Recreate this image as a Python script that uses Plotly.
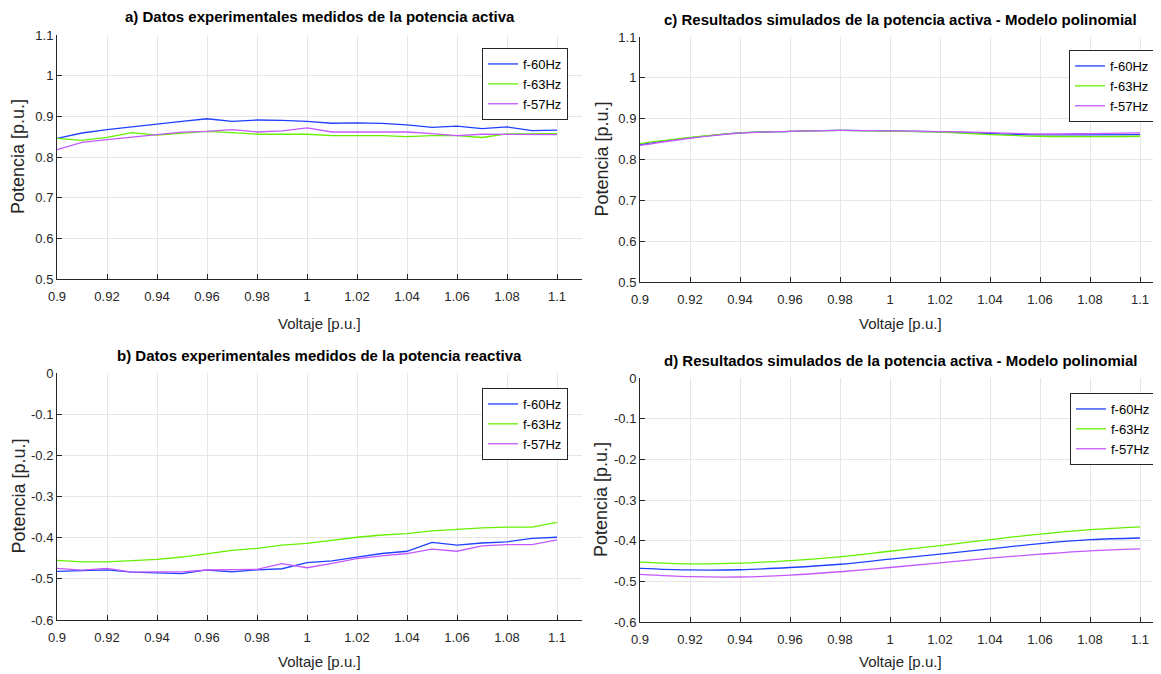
import plotly.graph_objects as go

W, H = 1161, 674
OFF = 8  # page body margin offset
FONT = "Liberation Sans Narrow, Arial Narrow, Liberation Sans, Arial"

# ---------------- data ----------------
voltage = [0.90, 0.91, 0.92, 0.93, 0.94, 0.95, 0.96, 0.97, 0.98, 0.99, 1.00,
           1.01, 1.02, 1.03, 1.04, 1.05, 1.06, 1.07, 1.08, 1.09, 1.10]

# a) measured active power
p_meas_60 = [0.846, 0.859, 0.8675, 0.875, 0.881, 0.8875, 0.894, 0.8875, 0.891, 0.890, 0.8875,
             0.883, 0.884, 0.8825, 0.879, 0.873, 0.876, 0.870, 0.874, 0.865, 0.866]
p_meas_63 = [0.846, 0.841, 0.848, 0.860, 0.854, 0.859, 0.863, 0.860, 0.856, 0.856, 0.856,
             0.8525, 0.8525, 0.8525, 0.850, 0.8525, 0.8525, 0.848, 0.857, 0.857, 0.8575]
p_meas_57 = [0.818, 0.836, 0.8425, 0.848, 0.855, 0.861, 0.863, 0.8675, 0.8615, 0.864, 0.8715,
             0.8615, 0.8615, 0.860, 0.8615, 0.8575, 0.8525, 0.856, 0.856, 0.855, 0.855]

# b) measured reactive power
q_meas_60 = [-0.482, -0.4795, -0.478, -0.4835, -0.486, -0.4875, -0.4785, -0.483, -0.478, -0.4755, -0.4605,
             -0.4565, -0.447, -0.4385, -0.433, -0.4115, -0.418, -0.413, -0.410, -0.4015, -0.399]
q_meas_63 = [-0.455, -0.459, -0.459, -0.456, -0.4525, -0.447, -0.4385, -0.431, -0.426, -0.418, -0.414,
             -0.4065, -0.399, -0.3935, -0.390, -0.3835, -0.379, -0.376, -0.3745, -0.3745, -0.363]
q_meas_57 = [-0.4745, -0.479, -0.4745, -0.4835, -0.483, -0.483, -0.4785, -0.4785, -0.477, -0.463, -0.473,
             -0.4625, -0.451, -0.444, -0.4385, -0.428, -0.433, -0.420, -0.417, -0.417, -0.4055]

# c) / d) simulated (polynomial model)
voltage_sim = [0.90, 0.92, 0.94, 0.96, 0.98, 1.00, 1.02, 1.04, 1.06, 1.08, 1.10]
p_sim_60 = [0.8366, 0.853, 0.865, 0.869, 0.8715, 0.870, 0.868, 0.8635, 0.8605, 0.8605, 0.861]
p_sim_63 = [0.8390, 0.854, 0.865, 0.869, 0.8715, 0.8695, 0.8670, 0.861, 0.857, 0.856, 0.857]
p_sim_57 = [0.8345, 0.852, 0.8645, 0.869, 0.8715, 0.870, 0.8685, 0.866, 0.8625, 0.8635, 0.865]

q_sim_60 = [-0.468, -0.472, -0.4715, -0.466, -0.458, -0.4455, -0.4333, -0.4203, -0.4073, -0.3976, -0.3935]
q_sim_63 = [-0.4528, -0.457, -0.4553, -0.449, -0.440, -0.426, -0.412, -0.3976, -0.3837, -0.373, -0.366]
q_sim_57 = [-0.483, -0.4886, -0.4894, -0.4846, -0.4764, -0.466, -0.4545, -0.443, -0.4333, -0.425, -0.4203]

series_names = ["f-60Hz", "f-63Hz", "f-57Hz"]
colors = ["#1f40ff", "#66f000", "#c458ff"]

x_ticks = [0.90, 0.92, 0.94, 0.96, 0.98, 1.00, 1.02, 1.04, 1.06, 1.08, 1.10]
x_ticklabels = ["0.9", "0.92", "0.94", "0.96", "0.98", "1", "1.02", "1.04", "1.06", "1.08", "1.1"]
yp_ticks = [0.5, 0.6, 0.7, 0.8, 0.9, 1.0, 1.1]
yp_ticklabels = ["0.5", "0.6", "0.7", "0.8", "0.9", "1", "1.1"]
yq_ticks = [-0.6, -0.5, -0.4, -0.3, -0.2, -0.1, 0.0]
yq_ticklabels = ["-0.6", "-0.5", "-0.4", "-0.3", "-0.2", "-0.1", "0"]

titles = ["a) Datos experimentales medidos de la potencia activa",
          "b) Datos experimentales medidos de la potencia reactiva",
          "c) Resultados simulados de la potencia activa - Modelo polinomial",
          "d) Resultados simulados de la potencia activa - Modelo polinomial"]

FW, FH = W - OFF, H - OFF


def fx(px):
    return (px - OFF) / FW


def fy(px):
    return 1 - (px - OFF) / FH


# panel geometry in window pixels: (left, right, top, bottom)
panels = [
    (57, 582, 35, 279),    # a
    (57, 582, 373, 620),   # b
    (640, 1160, 37, 282),  # c
    (640, 1160, 378, 622), # d
]
xtitle_gap = [44, 41, 41, 39]
xranges = [[0.9, 1.11], [0.9, 1.11], [0.9, 1.108], [0.9, 1.108]]
yranges = [[0.5, 1.1], [-0.6, 0.0], [0.5, 1.1], [-0.6, 0.0]]
legend_pos = [(568, 48), (568, 388), (1155, 50), (1156, 393)]

panel_data = [
    (voltage, [p_meas_60, p_meas_63, p_meas_57], "linear"),
    (voltage, [q_meas_60, q_meas_63, q_meas_57], "linear"),
    (voltage_sim, [p_sim_60, p_sim_63, p_sim_57], "spline"),
    (voltage_sim, [q_sim_60, q_sim_63, q_sim_57], "spline"),
]

fig = go.Figure()
layout = dict(
    width=FW, height=FH,
    margin=dict(l=0, r=0, t=0, b=0, autoexpand=False),
    paper_bgcolor="white", plot_bgcolor="white",
    font=dict(family=FONT, size=13, color="#262626"),
    showlegend=True,
)
annotations = []

for i, (xs, ys_list, shape) in enumerate(panel_data):
    n = i + 1
    xa = "x" if n == 1 else f"x{n}"
    ya = "y" if n == 1 else f"y{n}"
    lg = "legend" if n == 1 else f"legend{n}"
    for name, ys, col in zip(series_names, ys_list, colors):
        fig.add_trace(go.Scatter(
            x=xs, y=ys, mode="lines", name=name,
            line=dict(color=col, width=1.3, shape=shape, smoothing=1.0),
            xaxis=xa, yaxis=ya, legend=lg,
        ))
    l, r, t, b = panels[i]
    is_p = i in (0, 2)
    common = dict(
        showline=True, linecolor="#262626", linewidth=1, mirror=False,
        ticks="inside", ticklen=5, tickcolor="#262626", tickwidth=1,
        showgrid=True, gridcolor="#e6e6e6", gridwidth=1, zeroline=False,
        automargin=False,
        tickfont=dict(family=FONT, size=13, color="#262626"),
    )
    layout["xaxis" if n == 1 else f"xaxis{n}"] = dict(
        domain=[fx(l), fx(r)], range=xranges[i], anchor=ya,
        tickvals=x_ticks, ticktext=x_ticklabels, ticklabelstandoff=5, **common)
    layout["yaxis" if n == 1 else f"yaxis{n}"] = dict(
        domain=[fy(b), fy(t)], range=yranges[i], anchor=xa,
        tickvals=yp_ticks if is_p else yq_ticks,
        ticktext=yp_ticklabels if is_p else yq_ticklabels, **common)
    lx, ly = legend_pos[i]
    layout[lg] = dict(
        x=fx(lx), y=fy(ly), xanchor="right", yanchor="top",
        xref="paper", yref="paper",
        bgcolor="white", bordercolor="#262626", borderwidth=1,
        font=dict(family=FONT, size=13, color="#000000"),
        itemwidth=30, tracegroupgap=0,
    )
    # title
    annotations.append(dict(
        text=f"<b>{titles[i]}</b>", x=fx((l + r) / 2), y=fy(t - 18),
        xref="paper", yref="paper", xanchor="center", yanchor="middle",
        showarrow=False, font=dict(family=FONT, size=15, color="#000000")))
    # x title
    annotations.append(dict(
        text="Voltaje [p.u.]", x=fx((l + r) / 2), y=fy(b + xtitle_gap[i]),
        xref="paper", yref="paper", xanchor="center", yanchor="middle",
        showarrow=False, font=dict(family=FONT, size=15, color="#262626")))
    # y title
    annotations.append(dict(
        text="Potencia [p.u.]", x=fx(l - 39), y=fy((t + b) / 2),
        xref="paper", yref="paper", xanchor="center", yanchor="middle",
        textangle=-90, showarrow=False,
        font=dict(family=FONT, size=18, color="#262626")))

layout["annotations"] = annotations
fig.update_layout(**layout)
fig.write_html("out.html")
